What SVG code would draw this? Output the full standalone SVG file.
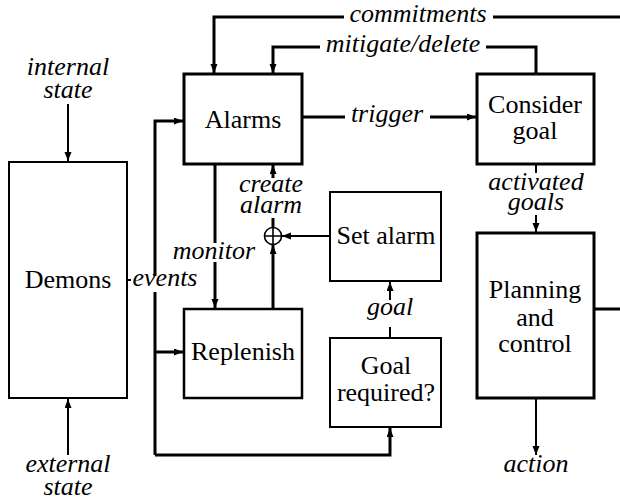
<svg xmlns="http://www.w3.org/2000/svg" width="620" height="500" viewBox="0 0 620 500">
  <style>
    .box { fill: #fff; stroke: #000; }
    .thick { stroke-width: 3; }
    .thin { stroke-width: 2; }
    .name { font-family: "Liberation Serif", "Times New Roman", serif; font-size: 26px; fill: #000; text-anchor: middle; }
    .lbl { font-family: "Liberation Serif", "Times New Roman", serif; font-size: 26px; font-style: italic; fill: #000; text-anchor: middle; }
    .wire { fill: none; stroke: #000; stroke-linejoin: miter; stroke-linecap: butt; }
    .bg { fill: #fff; stroke: none; }
  </style>
  <defs>
    <marker id="arrow" markerUnits="userSpaceOnUse" markerWidth="10" markerHeight="8" refX="9" refY="3.5" orient="auto">
      <path d="M0,0 L9,3.5 L0,7 z" fill="#000"/>
    </marker>
  </defs>

  <rect width="620" height="500" fill="#fff"/>

  <!-- connectors -->
  <g id="connectors">
    <!-- commitments: from the right edge back into Alarms -->
    <path class="wire thick" d="M620,17 H214 V73" marker-end="url(#arrow)"/>
    <!-- mitigate/delete: Consider goal back into Alarms -->
    <path class="wire thick" d="M536,74 V47 H273 V73" marker-end="url(#arrow)"/>
    <!-- trigger -->
    <path class="wire thick" d="M302,117 H476" marker-end="url(#arrow)"/>
    <!-- event bus -->
    <path class="wire thin" d="M127,280 H155"/>
    <path class="wire thick" d="M155,455 V121 H183" marker-end="url(#arrow)"/>
    <path class="wire thick" d="M155,352 H183" marker-end="url(#arrow)"/>
    <path class="wire thick" d="M155,455 H390 V428" marker-end="url(#arrow)"/>
    <!-- monitor -->
    <path class="wire thick" d="M215,164 V308" marker-end="url(#arrow)"/>
    <!-- Replenish into the junction, junction into Alarms -->
    <path class="wire thick" d="M273,309 V245" marker-end="url(#arrow)"/>
    <path class="wire thick" d="M273,227 V165" marker-end="url(#arrow)"/>
    <!-- Set alarm into the junction -->
    <path class="wire thin" d="M330,236 H282" marker-end="url(#arrow)"/>
    <!-- goal -->
    <path class="wire thin" d="M390,338 V282" marker-end="url(#arrow)"/>
    <!-- activated goals -->
    <path class="wire thin" d="M536,164 V232" marker-end="url(#arrow)"/>
    <!-- planning output -->
    <path class="wire thick" d="M594,309 H620"/>
    <!-- action -->
    <path class="wire thin" d="M536,398 V455" marker-end="url(#arrow)"/>
    <!-- internal / external state -->
    <path class="wire thin" d="M68,104 V161" marker-end="url(#arrow)"/>
    <path class="wire thin" d="M68,455 V399" marker-end="url(#arrow)"/>

    <!-- junction -->
    <g id="junction">
      <circle cx="273" cy="236" r="8.5" fill="#fff" stroke="#000" stroke-width="1.6"/>
      <path d="M264.5,236 H281.5 M273,227.5 V244.5" stroke="#000" stroke-width="1.6"/>
    </g>

    <!-- connector labels -->
    <rect class="bg" x="344" y="6" width="149" height="22"/>
    <text class="lbl" x="418" y="22">commitments</text>
    <rect class="bg" x="320" y="36" width="166" height="22"/>
    <text class="lbl" x="403" y="52">mitigate/delete</text>
    <rect class="bg" x="345" y="106" width="85" height="22"/>
    <text class="lbl" x="387" y="122">trigger</text>
    <rect class="bg" x="240" y="178" width="63" height="40"/>
    <text class="lbl" x="271" y="192">create</text>
    <text class="lbl" x="271" y="213">alarm</text>
    <rect class="bg" x="170" y="243" width="90" height="19"/>
    <text class="lbl" x="214" y="259">monitor</text>
    <rect class="bg" x="131" y="276" width="68" height="16"/>
    <text class="lbl" x="165" y="286">events</text>
    <rect class="bg" x="365" y="300" width="50" height="27"/>
    <text class="lbl" x="390" y="315">goal</text>
    <rect class="bg" x="485" y="173" width="102" height="42"/>
    <text class="lbl" x="536" y="190">activated</text>
    <text class="lbl" x="536" y="210">goals</text>
    <text class="lbl" x="68" y="75">internal</text>
    <text class="lbl" x="68" y="98">state</text>
    <text class="lbl" x="68" y="472">external</text>
    <text class="lbl" x="68" y="495">state</text>
    <text class="lbl" x="536" y="472">action</text>
  </g>

  <!-- nodes -->
  <g id="demons">
    <rect class="box thin" x="9" y="162" width="118" height="236"/>
    <text class="name" x="68" y="288">Demons</text>
  </g>
  <g id="alarms">
    <rect class="box thick" x="184" y="74" width="118" height="90"/>
    <text class="name" x="243" y="128">Alarms</text>
  </g>
  <g id="consider-goal">
    <rect class="box thick" x="477" y="74" width="117" height="90"/>
    <text class="name" x="535" y="113">Consider</text>
    <text class="name" x="535" y="139">goal</text>
  </g>
  <g id="set-alarm">
    <rect class="box thin" x="330" y="192" width="111" height="89"/>
    <text class="name" x="386" y="244">Set alarm</text>
  </g>
  <g id="replenish">
    <rect class="box" stroke-width="2.5" x="184" y="309" width="118" height="89"/>
    <text class="name" x="243" y="360">Replenish</text>
  </g>
  <g id="goal-required">
    <rect class="box thin" x="330" y="338" width="111" height="89"/>
    <text class="name" x="386" y="374">Goal</text>
    <text class="name" x="386" y="401">required?</text>
  </g>
  <g id="planning-and-control">
    <rect class="box thick" x="477" y="233" width="117" height="165"/>
    <text class="name" x="535" y="298">Planning</text>
    <text class="name" x="535" y="326">and</text>
    <text class="name" x="535" y="352">control</text>
  </g>
</svg>
